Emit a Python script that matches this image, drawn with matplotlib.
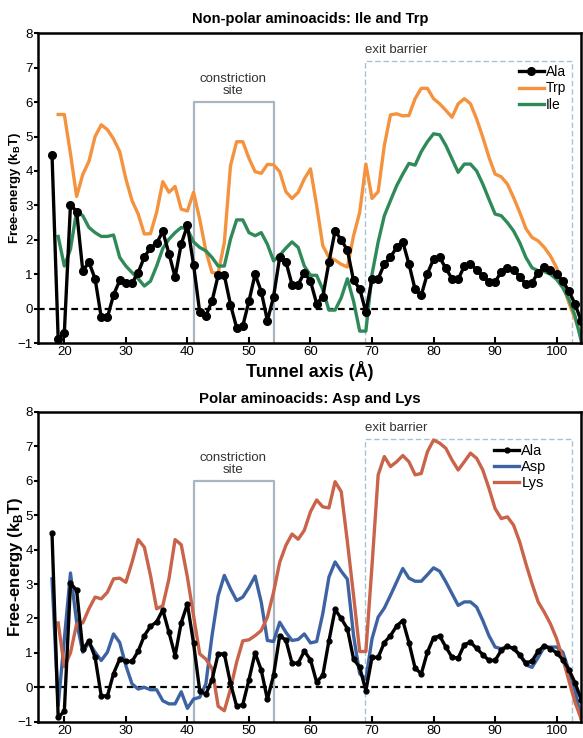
import numpy as np
import matplotlib.pyplot as plt

plt.rcParams['font.family'] = ['Liberation Sans', 'DejaVu Sans']

# tunnel axis positions (A)
x_ala = list(range(18, 105))
x_res = list(range(19, 105))
x_asp = list(range(18, 105))

ala = [4.47, -0.87, -0.7, 3.02, 2.82, 1.1, 1.35, 0.87, -0.25, -0.25,
       0.4, 0.82, 0.75, 0.75, 1.05, 1.5, 1.77, 1.9, 2.25, 1.6,
       0.92, 1.88, 2.42, 1.28, -0.1, -0.2, 0.22, 0.97, 0.97, 0.12,
       -0.55, -0.5, 0.22, 1.0, 0.5, -0.35, 0.35, 1.5, 1.37, 0.7,
       0.7, 1.05, 0.8, 0.15, 0.35, 1.35, 2.26, 2.0, 1.7, 0.82,
       0.58, -0.1, 0.87, 0.87, 1.3, 1.5, 1.78, 1.94, 1.3, 0.56,
       0.39, 1.02, 1.44, 1.49, 1.17, 0.87, 0.85, 1.24, 1.31, 1.13,
       0.95, 0.78, 0.78, 1.07, 1.19, 1.13, 0.93, 0.71, 0.76, 1.05,
       1.21, 1.12, 1.0, 0.8, 0.51, 0.13, -0.36]

trp = [5.64, 5.64, 4.5, 3.26, 3.9, 4.28, 5.0, 5.34, 5.2, 4.93,
       4.56, 3.77, 3.14, 2.75, 2.17, 2.18, 2.8, 3.69, 3.38, 3.55,
       2.89, 2.84, 3.38, 2.6, 1.68, 1.05, 1.03, 1.92, 4.15, 4.85,
       4.85, 4.37, 3.98, 3.93, 4.19, 4.18, 3.98, 3.4, 3.2, 3.38,
       3.77, 4.06, 3.0, 1.83, 1.49, 1.41, 1.29, 1.21, 2.12, 2.8,
       4.2, 3.2, 3.4, 4.74, 5.63, 5.66, 5.6, 5.61, 6.1, 6.4,
       6.4, 6.1, 5.95, 5.76, 5.56, 5.95, 6.1, 5.95, 5.51, 4.98,
       4.4, 3.91, 3.83, 3.62, 3.23, 2.8, 2.33, 2.07, 1.97, 1.78,
       1.53, 1.19, 0.71, 0.17, -0.3, -0.8]

ile = [2.1, 1.24, 1.73, 2.84, 2.7, 2.36, 2.21, 2.1, 2.1, 2.14,
       1.49, 1.24, 1.05, 0.87, 0.66, 0.8, 1.24, 1.75, 2.02, 2.21,
       2.36, 2.31, 1.94, 1.78, 1.68, 1.49, 1.24, 1.24, 2.02, 2.58,
       2.58, 2.21, 2.12, 2.21, 1.87, 1.39, 1.55, 1.76, 1.94, 1.78,
       1.24, 0.97, 0.97, 0.56, -0.04, -0.04, 0.32, 0.87, 0.22, -0.65,
       -0.65, 1.0, 1.94, 2.7, 3.14, 3.57, 3.91, 4.22, 4.17, 4.56,
       4.85, 5.08, 5.05, 4.74, 4.35, 3.96, 4.2, 4.2, 4.0, 3.62,
       3.18, 2.75, 2.7, 2.5, 2.26, 1.92, 1.49, 1.19, 1.1, 1.08,
       1.0, 0.85, 0.61, 0.27, -0.21, -0.94]

asp = [3.15, -0.53, 1.4, 3.32, 1.9, 1.02, 1.3, 1.02, 0.78, 1.02,
       1.55, 1.3, 0.63, 0.1, -0.05, 0.0, -0.07, -0.07, -0.39, -0.48,
       -0.48, -0.13, -0.61, -0.34, -0.29, 0.1, 1.5, 2.66, 3.25, 2.86,
       2.52, 2.62, 2.9, 3.23, 2.47, 1.36, 1.33, 1.89, 1.6, 1.36,
       1.39, 1.55, 1.29, 1.33, 2.14, 3.2, 3.64, 3.37, 3.14, 1.5,
       0.39, 0.24, 1.41, 2.04, 2.3, 2.67, 3.06, 3.45, 3.17, 3.08,
       3.08, 3.27, 3.47, 3.37, 3.06, 2.72, 2.38, 2.48, 2.48, 2.33,
       1.94, 1.5, 1.17, 1.12, 1.19, 1.12, 0.97, 0.65, 0.58, 0.87,
       1.17, 1.17, 1.17, 1.02, 0.49, -0.1, -0.92]

lys = [1.87, 0.6, 1.0, 1.84, 1.87, 2.28, 2.62, 2.57, 2.76, 3.15,
       3.17, 3.05, 3.63, 4.29, 4.07, 3.25, 2.28, 2.37, 3.15, 4.29,
       4.14, 3.2, 2.08, 0.97, 0.82, 0.55, -0.55, -0.68, -0.05, 0.73,
       1.35, 1.38, 1.5, 1.65, 2.04, 2.76, 3.63, 4.12, 4.45, 4.3,
       4.56, 5.1, 5.44, 5.24, 5.21, 5.97, 5.68, 4.22, 2.67, 1.04,
       1.04, 3.54, 6.17, 6.7, 6.41, 6.55, 6.73, 6.55, 6.17, 6.21,
       6.84, 7.18, 7.09, 6.94, 6.6, 6.31, 6.55, 6.8, 6.65, 6.31,
       5.78, 5.19, 4.9, 4.95, 4.71, 4.22, 3.59, 3.01, 2.48, 2.18,
       1.84, 1.41, 0.83, 0.19, -0.44, -0.92]

c_trp = '#f5923e'
c_ile = '#2f8a5a'
c_asp = '#3d63a3'
c_lys = '#c9634a'
c_box = '#a9b6c0'
c_exit = '#a8c4d4'

fig = plt.figure(figsize=(5.83, 7.38), dpi=100)
ax1 = fig.add_axes([0.066, 0.535, 0.931, 0.42])
ax2 = fig.add_axes([0.066, 0.022, 0.931, 0.42])


def decorate(ax, ylab_size, ylab_x):
    ax.set_xlim(15.8, 104)
    ax.set_ylim(-1, 8)
    ax.axhline(0, color='black', lw=1.6, ls=(0, (3, 2)), zorder=1)
    # constriction site
    ax.plot([41.1, 41.1, 54.1, 54.1], [-1, 6, 6, -1], color=c_box, lw=1.6, zorder=1)
    ax.text(47.4, 6.15, 'constriction\nsite', ha='center', va='bottom',
            fontsize=9.5, color='#333333', linespacing=0.95, multialignment='center')
    # exit barrier
    ax.plot([68.9, 68.9, 102.5, 102.5], [-1, 7.2, 7.2, -1], color=c_exit,
            lw=1.0, ls=(0, (4, 2)), zorder=1)
    ax.text(68.9, 7.35, 'exit barrier', ha='left', va='bottom', fontsize=9.5, color='#333333')
    ax.set_xticks([20, 30, 40, 50, 60, 70, 80, 90, 100])
    ax.set_yticks(range(-1, 9))
    ax.tick_params(axis='x', direction='in', length=4, width=1.5, labelsize=9.5, pad=2)
    ax.tick_params(axis='y', direction='out', length=3, width=1.5, labelsize=9.5, pad=1)
    for s in ax.spines.values():
        s.set_linewidth(1.8)
    ax.set_ylabel('Free-energy (k$_\\mathregular{B}$T)', fontsize=ylab_size,
                  fontweight='bold')
    ax.yaxis.set_label_coords(ylab_x, 0.5)


ax1.plot(x_res, trp, color=c_trp, lw=2.4, label='Trp', zorder=2)
ax1.plot(x_res, ile, color=c_ile, lw=2.4, label='Ile', zorder=2)
ax1.plot(x_ala, ala, color='black', lw=2.4, marker='o', ms=5.5, label='Ala', zorder=3)
decorate(ax1, 9.5, -0.028)
h, l = ax1.get_legend_handles_labels()
ax1.legend([h[2], h[0], h[1]], [l[2], l[0], l[1]], loc='upper right',
           bbox_to_anchor=(0.99, 0.93), frameon=False, fontsize=10,
           handlelength=1.8, handletextpad=0.15, labelspacing=0.2, borderpad=0.2)
ax1.set_title('Non-polar aminoacids: Ile and Trp', fontsize=10.5, fontweight='bold', pad=7)
ax1.set_xlabel('Tunnel axis (Å)', fontsize=13, fontweight='bold', labelpad=2)

ax2.plot(x_asp, asp, color=c_asp, lw=2.4, label='Asp', zorder=2)
ax2.plot(x_res, lys, color=c_lys, lw=2.4, label='Lys', zorder=2)
ax2.plot(x_ala, ala, color='black', lw=2.4, marker='o', ms=3.5, label='Ala', zorder=3)
decorate(ax2, 12, -0.024)
h, l = ax2.get_legend_handles_labels()
ax2.legend([h[2], h[0], h[1]], [l[2], l[0], l[1]], loc='upper right',
           bbox_to_anchor=(0.955, 0.93), frameon=False, fontsize=10.5,
           handlelength=1.7, handletextpad=0.15, labelspacing=0.15, borderpad=0.2)
ax2.set_title('Polar aminoacids: Asp and Lys', fontsize=10.8, fontweight='bold', pad=6)

fig.savefig('out.png', dpi=100)
